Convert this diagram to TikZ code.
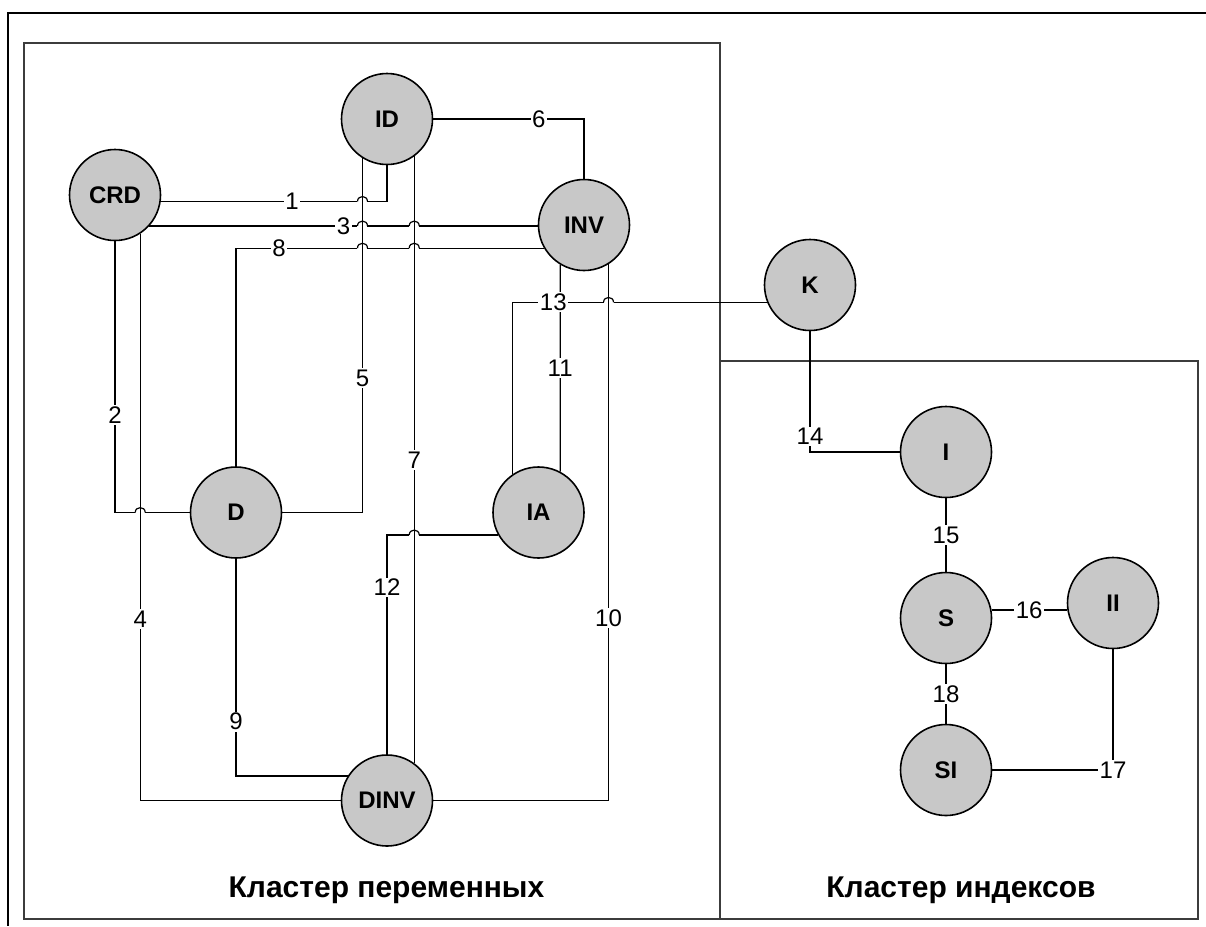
\documentclass[tikz,border=0pt]{standalone}
\usepackage{fontspec}
\setmainfont{Liberation Sans}
\definecolor{NodeGray}{RGB}{200, 200, 200}
\definecolor{FrameGray}{RGB}{60, 60, 60}

\begin{document}
\begin{tikzpicture}[x=1pt, y=-1pt,
    var/.style={circle, draw, line width=1.6pt, fill=NodeGray, minimum size=91pt,
      inner sep=0pt, font=\fontsize{24}{24}\selectfont\bfseries},
    conn/.style={line width=1.2pt},
    num/.style={fill=white, inner sep=1.5pt, font=\fontsize{24}{24}\selectfont},
    clustertitle/.style={font=\fontsize{30}{30}\selectfont\bfseries}]
    \useasboundingbox (0, 0) rectangle (1206, 926);

    % Frames
    \draw[line width=1.6pt] (1206, 13) -- (8, 13) -- (8, 926);
    \draw[line width=1.6pt, FrameGray] (24, 43) rectangle (720, 919);
    \draw[line width=1.6pt, FrameGray] (720, 361) -- (1198, 361) -- (1198, 919) -- (720, 919);

    \node[clustertitle] (varTitle) at (386.5, 890) {Кластер переменных};
    \node[clustertitle] (idxTitle) at (961, 890) {Кластер индексов};

    % Variable cluster
    \node[var] (CRD) at (115, 195) {CRD};
    \node[var] (ID) at (387, 119) {ID};
    \node[var] (INV) at (584, 225) {INV};
    \node[var] (D) at (236, 512.5) {D};
    \node[var] (IA) at (538.5, 512.5) {IA};
    \node[var] (DINV) at (387, 800.5) {DINV};

    % Index cluster
    \node[var] (K) at (810, 285) {K};
    \node[var] (I) at (946, 452) {I};
    \node[var] (S) at (946, 618) {S};
    \node[var] (II) at (1113, 603) {II};
    \node[var] (SI) at (946, 770) {SI};

    % Links
    \draw[conn] (CRD.-8) -| node[num, pos=0.29] {1} (ID);
    \draw[conn] (CRD) |- node[num, pos=0.32] {2} (D);
    \draw[conn] (CRD.-42) -- node[num] {3} (CRD.-42 -| INV.west);
    \draw[conn] (CRD.-57) |- node[num, pos=0.34] {4} (DINV);
    \draw[conn] (ID.-122) |- node[num, pos=0.31] {5} (D);
    \draw[conn] (ID) -| node[num, pos=0.35] {6} (INV);
    \draw[conn] (ID.-54) -- node[num] {7} (DINV.54);
    \draw[conn] (INV.210) -| node[num, pos=0.43] {8} (D);
    \draw[conn] (D) |- node[num, pos=0.375] {9} (DINV.148);
    \draw[conn] (INV.-58.5) |- node[num, pos=0.33] {10} (DINV);
    \draw[conn] (INV.-121) -- node[num] {11} (IA.62);
    \draw[conn] (IA.209) -| node[num, pos=0.62] {12} (DINV);
    \draw[conn] (IA.124) |- node[num, pos=0.58] {13} (K.202);
    \draw[conn] (K) |- node[num, pos=0.435] {14} (I);
    \draw[conn] (I) -- node[num] {15} (S);
    \draw[conn] (S.10) -- node[num] {16} (S.10 -| II.west);
    \draw[conn] (II) |- node[num] {17} (SI);
    \draw[conn] (S) -- node[num] {18} (SI);

    % Line hops
    \coordinate (j1) at (ID.-122 |- CRD.-8);
    \coordinate (j2) at (ID.-122 |- CRD.-42);
    \coordinate (j3) at (ID.-54 |- CRD.-42);
    \coordinate (j4) at (ID.-122 |- INV.210);
    \coordinate (j5) at (ID.-54 |- INV.210);
    \coordinate (j6) at (INV.-58.5 |- K.202);
    \coordinate (j7) at (CRD.-57 |- D.west);
    \coordinate (j8) at (ID.-54 |- IA.209);
    \foreach \j in {j1, j2, j3, j4, j5, j6, j7, j8} {
      \fill[white] ([xshift=-5pt, yshift=-1.2pt]\j) rectangle ([xshift=5pt, yshift=1.2pt]\j);
      \draw[conn] ([yshift=-7pt]\j) -- ([yshift=7pt]\j);
      \draw[conn] ([xshift=-5pt]\j) .. controls ([xshift=-5pt, yshift=6.5pt]\j)
        and ([xshift=5pt, yshift=6.5pt]\j) .. ([xshift=5pt]\j);
    }
\end{tikzpicture}
\end{document}
